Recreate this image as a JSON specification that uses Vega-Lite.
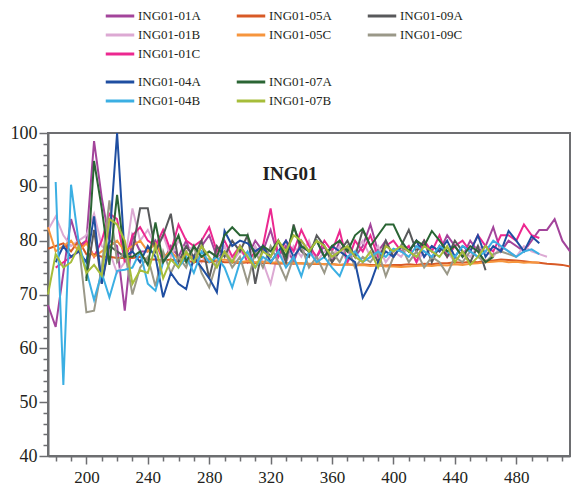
{
"$schema": "https://vega.github.io/schema/vega-lite/v6.json",
"width": 522, "height": 323,
"autosize": {"type": "none"},
"padding": {"left": 48, "top": 133, "right": 11, "bottom": 32},
"background": "white",
"config": {
  "view": {"stroke": "#6d6e71", "strokeWidth": 2},
  "font": "Liberation Serif",
  "style": {"guide-label": {"font": "Liberation Serif"}, "guide-title": {"font": "Liberation Serif"}},
  "axis": {"domainColor": "#6d6e71", "domainWidth": 2, "tickColor": "#6d6e71", "tickWidth": 1.5, "labelFont": "Liberation Serif", "labelFontSize": 17, "labelColor": "#231f20", "grid": false},
  "legend": {"labelFont": "Liberation Serif", "labelFontSize": 13, "labelColor": "#231f20", "symbolType": "M-1.5,0H1.5", "symbolStrokeWidth": 3, "symbolSize": 361, "labelOffset": 7, "columnPadding": 29, "rowPadding": 1, "gridAlign": "all", "padding": 0}
},
"title": {"text": "ING01", "font": "Liberation Serif", "fontSize": 19, "fontWeight": "bold", "color": "#231f20", "anchor": "middle", "dx": -19, "dy": 179, "offset": 0},
"data": {"values": [
{"s":"ING01-01A","x":175,"y":68},{"s":"ING01-01A","x":180,"y":64},{"s":"ING01-01A","x":185,"y":74},{"s":"ING01-01A","x":190,"y":84},{"s":"ING01-01A","x":195,"y":79},{"s":"ING01-01A","x":200,"y":80},{"s":"ING01-01A","x":205,"y":98.5},{"s":"ING01-01A","x":210,"y":88},{"s":"ING01-01A","x":215,"y":80},{"s":"ING01-01A","x":220,"y":79},{"s":"ING01-01A","x":225,"y":67},{"s":"ING01-01A","x":230,"y":81},{"s":"ING01-01A","x":235,"y":78},{"s":"ING01-01A","x":240,"y":78},{"s":"ING01-01A","x":245,"y":80},{"s":"ING01-01A","x":250,"y":76},{"s":"ING01-01A","x":255,"y":79},{"s":"ING01-01A","x":260,"y":77},{"s":"ING01-01A","x":265,"y":80},{"s":"ING01-01A","x":270,"y":76},{"s":"ING01-01A","x":275,"y":79},{"s":"ING01-01A","x":280,"y":81},{"s":"ING01-01A","x":285,"y":77},{"s":"ING01-01A","x":290,"y":78},{"s":"ING01-01A","x":295,"y":76},{"s":"ING01-01A","x":300,"y":79},{"s":"ING01-01A","x":305,"y":77},{"s":"ING01-01A","x":310,"y":80},{"s":"ING01-01A","x":315,"y":78},{"s":"ING01-01A","x":320,"y":82},{"s":"ING01-01A","x":325,"y":77},{"s":"ING01-01A","x":330,"y":79},{"s":"ING01-01A","x":335,"y":76},{"s":"ING01-01A","x":340,"y":80},{"s":"ING01-01A","x":345,"y":78},{"s":"ING01-01A","x":350,"y":77},{"s":"ING01-01A","x":355,"y":79},{"s":"ING01-01A","x":360,"y":76},{"s":"ING01-01A","x":365,"y":80},{"s":"ING01-01A","x":370,"y":78},{"s":"ING01-01A","x":375,"y":77},{"s":"ING01-01A","x":380,"y":79},{"s":"ING01-01A","x":385,"y":83},{"s":"ING01-01A","x":390,"y":78},{"s":"ING01-01A","x":395,"y":80},{"s":"ING01-01A","x":400,"y":77},{"s":"ING01-01A","x":405,"y":79},{"s":"ING01-01A","x":410,"y":78},{"s":"ING01-01A","x":415,"y":80},{"s":"ING01-01A","x":420,"y":77},{"s":"ING01-01A","x":425,"y":79},{"s":"ING01-01A","x":430,"y":78},{"s":"ING01-01A","x":435,"y":81},{"s":"ING01-01A","x":440,"y":79},{"s":"ING01-01A","x":445,"y":77},{"s":"ING01-01A","x":450,"y":80},{"s":"ING01-01A","x":455,"y":78},{"s":"ING01-01A","x":460,"y":79},{"s":"ING01-01A","x":465,"y":82.5},{"s":"ING01-01A","x":470,"y":78},{"s":"ING01-01A","x":475,"y":80},{"s":"ING01-01A","x":480,"y":79},{"s":"ING01-01A","x":485,"y":78},{"s":"ING01-01A","x":490,"y":80},{"s":"ING01-01A","x":495,"y":82},{"s":"ING01-01A","x":500,"y":82},{"s":"ING01-01A","x":505,"y":84},{"s":"ING01-01A","x":510,"y":80},{"s":"ING01-01A","x":515,"y":78},
{"s":"ING01-01B","x":175,"y":82},{"s":"ING01-01B","x":180,"y":84.5},{"s":"ING01-01B","x":185,"y":81},{"s":"ING01-01B","x":190,"y":79},{"s":"ING01-01B","x":195,"y":80},{"s":"ING01-01B","x":200,"y":81},{"s":"ING01-01B","x":205,"y":85},{"s":"ING01-01B","x":210,"y":79},{"s":"ING01-01B","x":215,"y":78},{"s":"ING01-01B","x":220,"y":74},{"s":"ING01-01B","x":225,"y":76},{"s":"ING01-01B","x":230,"y":86},{"s":"ING01-01B","x":235,"y":80},{"s":"ING01-01B","x":240,"y":82},{"s":"ING01-01B","x":245,"y":79},{"s":"ING01-01B","x":250,"y":81},{"s":"ING01-01B","x":255,"y":77},{"s":"ING01-01B","x":260,"y":80},{"s":"ING01-01B","x":265,"y":78},{"s":"ING01-01B","x":270,"y":79},{"s":"ING01-01B","x":275,"y":76},{"s":"ING01-01B","x":280,"y":78},{"s":"ING01-01B","x":285,"y":77},{"s":"ING01-01B","x":290,"y":79},{"s":"ING01-01B","x":295,"y":76},{"s":"ING01-01B","x":300,"y":78},{"s":"ING01-01B","x":305,"y":77},{"s":"ING01-01B","x":310,"y":79},{"s":"ING01-01B","x":315,"y":76},{"s":"ING01-01B","x":320,"y":72},{"s":"ING01-01B","x":325,"y":78},{"s":"ING01-01B","x":330,"y":76},{"s":"ING01-01B","x":335,"y":79},{"s":"ING01-01B","x":340,"y":77},{"s":"ING01-01B","x":345,"y":80},{"s":"ING01-01B","x":350,"y":76},{"s":"ING01-01B","x":355,"y":78},{"s":"ING01-01B","x":360,"y":77},{"s":"ING01-01B","x":365,"y":79},{"s":"ING01-01B","x":370,"y":76},{"s":"ING01-01B","x":375,"y":78},{"s":"ING01-01B","x":380,"y":80},{"s":"ING01-01B","x":385,"y":77},{"s":"ING01-01B","x":390,"y":79},{"s":"ING01-01B","x":395,"y":76},{"s":"ING01-01B","x":400,"y":78},{"s":"ING01-01B","x":405,"y":77},{"s":"ING01-01B","x":410,"y":79},{"s":"ING01-01B","x":415,"y":76},{"s":"ING01-01B","x":420,"y":78},{"s":"ING01-01B","x":425,"y":77},{"s":"ING01-01B","x":430,"y":79},{"s":"ING01-01B","x":435,"y":78},{"s":"ING01-01B","x":440,"y":76},{"s":"ING01-01B","x":445,"y":78},{"s":"ING01-01B","x":450,"y":77},{"s":"ING01-01B","x":455,"y":79},{"s":"ING01-01B","x":460,"y":78},{"s":"ING01-01B","x":465,"y":77},{"s":"ING01-01B","x":470,"y":79},{"s":"ING01-01B","x":475,"y":78},{"s":"ING01-01B","x":480,"y":77},{"s":"ING01-01B","x":485,"y":79},{"s":"ING01-01B","x":490,"y":78},{"s":"ING01-01B","x":495,"y":77.5},{"s":"ING01-01B","x":500,"y":77},
{"s":"ING01-01C","x":180,"y":75},{"s":"ING01-01C","x":185,"y":76},{"s":"ING01-01C","x":190,"y":77},{"s":"ING01-01C","x":195,"y":78},{"s":"ING01-01C","x":200,"y":80},{"s":"ING01-01C","x":205,"y":77},{"s":"ING01-01C","x":210,"y":80},{"s":"ING01-01C","x":215,"y":85},{"s":"ING01-01C","x":220,"y":84},{"s":"ING01-01C","x":225,"y":76},{"s":"ING01-01C","x":230,"y":81},{"s":"ING01-01C","x":235,"y":82.5},{"s":"ING01-01C","x":240,"y":80},{"s":"ING01-01C","x":245,"y":79},{"s":"ING01-01C","x":250,"y":82},{"s":"ING01-01C","x":255,"y":78},{"s":"ING01-01C","x":260,"y":83},{"s":"ING01-01C","x":265,"y":80},{"s":"ING01-01C","x":270,"y":79},{"s":"ING01-01C","x":275,"y":80},{"s":"ING01-01C","x":280,"y":82.5},{"s":"ING01-01C","x":285,"y":78},{"s":"ING01-01C","x":290,"y":80},{"s":"ING01-01C","x":295,"y":77},{"s":"ING01-01C","x":300,"y":79},{"s":"ING01-01C","x":305,"y":76},{"s":"ING01-01C","x":310,"y":78},{"s":"ING01-01C","x":315,"y":79},{"s":"ING01-01C","x":320,"y":86},{"s":"ING01-01C","x":325,"y":77},{"s":"ING01-01C","x":330,"y":80},{"s":"ING01-01C","x":335,"y":78},{"s":"ING01-01C","x":340,"y":82},{"s":"ING01-01C","x":345,"y":79},{"s":"ING01-01C","x":350,"y":77},{"s":"ING01-01C","x":355,"y":80},{"s":"ING01-01C","x":360,"y":78},{"s":"ING01-01C","x":365,"y":81.8},{"s":"ING01-01C","x":370,"y":76},{"s":"ING01-01C","x":375,"y":80},{"s":"ING01-01C","x":380,"y":78},{"s":"ING01-01C","x":385,"y":81},{"s":"ING01-01C","x":390,"y":77},{"s":"ING01-01C","x":395,"y":79},{"s":"ING01-01C","x":400,"y":80},{"s":"ING01-01C","x":405,"y":78},{"s":"ING01-01C","x":410,"y":79},{"s":"ING01-01C","x":415,"y":76},{"s":"ING01-01C","x":420,"y":80},{"s":"ING01-01C","x":425,"y":78},{"s":"ING01-01C","x":430,"y":81},{"s":"ING01-01C","x":435,"y":77},{"s":"ING01-01C","x":440,"y":79},{"s":"ING01-01C","x":445,"y":80},{"s":"ING01-01C","x":450,"y":78},{"s":"ING01-01C","x":455,"y":81},{"s":"ING01-01C","x":460,"y":79},{"s":"ING01-01C","x":465,"y":78},{"s":"ING01-01C","x":470,"y":81},{"s":"ING01-01C","x":475,"y":81},{"s":"ING01-01C","x":480,"y":80},{"s":"ING01-01C","x":485,"y":83},{"s":"ING01-01C","x":490,"y":81},{"s":"ING01-01C","x":495,"y":80.5},
{"s":"ING01-05A","x":175,"y":78.5},{"s":"ING01-05A","x":180,"y":79},{"s":"ING01-05A","x":185,"y":79.5},{"s":"ING01-05A","x":190,"y":78},{"s":"ING01-05A","x":195,"y":80},{"s":"ING01-05A","x":200,"y":77.5},{"s":"ING01-05A","x":205,"y":77.5},{"s":"ING01-05A","x":210,"y":77},{"s":"ING01-05A","x":215,"y":77},{"s":"ING01-05A","x":220,"y":76.8},{"s":"ING01-05A","x":225,"y":76.8},{"s":"ING01-05A","x":230,"y":76.8},{"s":"ING01-05A","x":235,"y":77},{"s":"ING01-05A","x":240,"y":76.5},{"s":"ING01-05A","x":245,"y":76.5},{"s":"ING01-05A","x":250,"y":76.3},{"s":"ING01-05A","x":255,"y":76.5},{"s":"ING01-05A","x":260,"y":76.2},{"s":"ING01-05A","x":265,"y":76.3},{"s":"ING01-05A","x":270,"y":76},{"s":"ING01-05A","x":275,"y":76.2},{"s":"ING01-05A","x":280,"y":76},{"s":"ING01-05A","x":285,"y":76.2},{"s":"ING01-05A","x":290,"y":76},{"s":"ING01-05A","x":295,"y":76},{"s":"ING01-05A","x":300,"y":75.8},{"s":"ING01-05A","x":305,"y":76},{"s":"ING01-05A","x":310,"y":75.8},{"s":"ING01-05A","x":315,"y":75.9},{"s":"ING01-05A","x":320,"y":75.8},{"s":"ING01-05A","x":325,"y":75.7},{"s":"ING01-05A","x":330,"y":75.8},{"s":"ING01-05A","x":335,"y":75.7},{"s":"ING01-05A","x":340,"y":75.8},{"s":"ING01-05A","x":345,"y":75.6},{"s":"ING01-05A","x":350,"y":75.7},{"s":"ING01-05A","x":355,"y":75.6},{"s":"ING01-05A","x":360,"y":75.6},{"s":"ING01-05A","x":365,"y":75.5},{"s":"ING01-05A","x":370,"y":75.6},{"s":"ING01-05A","x":375,"y":75.5},{"s":"ING01-05A","x":380,"y":75.6},{"s":"ING01-05A","x":385,"y":75.5},{"s":"ING01-05A","x":390,"y":75.5},{"s":"ING01-05A","x":395,"y":75.4},{"s":"ING01-05A","x":400,"y":75.5},{"s":"ING01-05A","x":405,"y":75.5},{"s":"ING01-05A","x":410,"y":75.6},{"s":"ING01-05A","x":415,"y":75.5},{"s":"ING01-05A","x":420,"y":75.7},{"s":"ING01-05A","x":425,"y":75.6},{"s":"ING01-05A","x":430,"y":75.8},{"s":"ING01-05A","x":435,"y":75.8},{"s":"ING01-05A","x":440,"y":76},{"s":"ING01-05A","x":445,"y":75.9},{"s":"ING01-05A","x":450,"y":76.1},{"s":"ING01-05A","x":455,"y":76},{"s":"ING01-05A","x":460,"y":76.3},{"s":"ING01-05A","x":465,"y":76.3},{"s":"ING01-05A","x":470,"y":76.5},{"s":"ING01-05A","x":475,"y":76.4},{"s":"ING01-05A","x":480,"y":76.3},{"s":"ING01-05A","x":485,"y":76.2},{"s":"ING01-05A","x":490,"y":76},{"s":"ING01-05A","x":495,"y":75.9},{"s":"ING01-05A","x":500,"y":75.7},{"s":"ING01-05A","x":505,"y":75.6},{"s":"ING01-05A","x":510,"y":75.5},{"s":"ING01-05A","x":515,"y":75.2},
{"s":"ING01-05C","x":175,"y":82.5},{"s":"ING01-05C","x":180,"y":78},{"s":"ING01-05C","x":185,"y":79},{"s":"ING01-05C","x":190,"y":80},{"s":"ING01-05C","x":195,"y":78},{"s":"ING01-05C","x":200,"y":79.5},{"s":"ING01-05C","x":205,"y":77},{"s":"ING01-05C","x":210,"y":78},{"s":"ING01-05C","x":215,"y":79},{"s":"ING01-05C","x":220,"y":80},{"s":"ING01-05C","x":225,"y":78},{"s":"ING01-05C","x":230,"y":79},{"s":"ING01-05C","x":235,"y":80},{"s":"ING01-05C","x":240,"y":78},{"s":"ING01-05C","x":245,"y":79.5},{"s":"ING01-05C","x":250,"y":77},{"s":"ING01-05C","x":255,"y":78},{"s":"ING01-05C","x":260,"y":76.5},{"s":"ING01-05C","x":265,"y":77.5},{"s":"ING01-05C","x":270,"y":76.8},{"s":"ING01-05C","x":275,"y":77},{"s":"ING01-05C","x":280,"y":76.5},{"s":"ING01-05C","x":285,"y":76.3},{"s":"ING01-05C","x":290,"y":76.5},{"s":"ING01-05C","x":295,"y":76.2},{"s":"ING01-05C","x":300,"y":76},{"s":"ING01-05C","x":305,"y":76.2},{"s":"ING01-05C","x":310,"y":76},{"s":"ING01-05C","x":315,"y":76.1},{"s":"ING01-05C","x":320,"y":75.9},{"s":"ING01-05C","x":325,"y":76},{"s":"ING01-05C","x":330,"y":75.8},{"s":"ING01-05C","x":335,"y":75.9},{"s":"ING01-05C","x":340,"y":75.8},{"s":"ING01-05C","x":345,"y":75.7},{"s":"ING01-05C","x":350,"y":75.8},{"s":"ING01-05C","x":355,"y":75.6},{"s":"ING01-05C","x":360,"y":75.7},{"s":"ING01-05C","x":365,"y":75.5},{"s":"ING01-05C","x":370,"y":75.6},{"s":"ING01-05C","x":375,"y":75.4},{"s":"ING01-05C","x":380,"y":75.5},{"s":"ING01-05C","x":385,"y":75.3},{"s":"ING01-05C","x":390,"y":75.4},{"s":"ING01-05C","x":395,"y":75.2},{"s":"ING01-05C","x":400,"y":75.2},{"s":"ING01-05C","x":405,"y":75.1},{"s":"ING01-05C","x":410,"y":75.2},{"s":"ING01-05C","x":415,"y":75.3},{"s":"ING01-05C","x":420,"y":75.4},{"s":"ING01-05C","x":425,"y":75.3},{"s":"ING01-05C","x":430,"y":75.5},{"s":"ING01-05C","x":435,"y":75.4},{"s":"ING01-05C","x":440,"y":75.6},{"s":"ING01-05C","x":445,"y":75.5},{"s":"ING01-05C","x":450,"y":75.7},{"s":"ING01-05C","x":455,"y":75.8},{"s":"ING01-05C","x":460,"y":76},{"s":"ING01-05C","x":465,"y":76.1},{"s":"ING01-05C","x":470,"y":76.2},{"s":"ING01-05C","x":475,"y":76},{"s":"ING01-05C","x":480,"y":76.1},{"s":"ING01-05C","x":485,"y":75.9},{"s":"ING01-05C","x":490,"y":76},{"s":"ING01-05C","x":495,"y":75.9},
{"s":"ING01-09A","x":200,"y":73},{"s":"ING01-09A","x":205,"y":82},{"s":"ING01-09A","x":210,"y":72},{"s":"ING01-09A","x":215,"y":79},{"s":"ING01-09A","x":220,"y":78},{"s":"ING01-09A","x":225,"y":77},{"s":"ING01-09A","x":230,"y":78},{"s":"ING01-09A","x":235,"y":86},{"s":"ING01-09A","x":240,"y":86},{"s":"ING01-09A","x":245,"y":78},{"s":"ING01-09A","x":250,"y":81},{"s":"ING01-09A","x":255,"y":85},{"s":"ING01-09A","x":260,"y":76},{"s":"ING01-09A","x":265,"y":79},{"s":"ING01-09A","x":270,"y":77},{"s":"ING01-09A","x":275,"y":80},{"s":"ING01-09A","x":280,"y":73},{"s":"ING01-09A","x":285,"y":79},{"s":"ING01-09A","x":290,"y":77},{"s":"ING01-09A","x":295,"y":80},{"s":"ING01-09A","x":300,"y":78},{"s":"ING01-09A","x":305,"y":81},{"s":"ING01-09A","x":310,"y":72},{"s":"ING01-09A","x":315,"y":79},{"s":"ING01-09A","x":320,"y":77},{"s":"ING01-09A","x":325,"y":80},{"s":"ING01-09A","x":330,"y":76},{"s":"ING01-09A","x":335,"y":83},{"s":"ING01-09A","x":340,"y":78},{"s":"ING01-09A","x":345,"y":77},{"s":"ING01-09A","x":350,"y":81},{"s":"ING01-09A","x":355,"y":79},{"s":"ING01-09A","x":360,"y":76},{"s":"ING01-09A","x":365,"y":78},{"s":"ING01-09A","x":370,"y":80},{"s":"ING01-09A","x":375,"y":77},{"s":"ING01-09A","x":380,"y":82},{"s":"ING01-09A","x":385,"y":79},{"s":"ING01-09A","x":390,"y":76},{"s":"ING01-09A","x":395,"y":80},{"s":"ING01-09A","x":400,"y":77},{"s":"ING01-09A","x":405,"y":79},{"s":"ING01-09A","x":410,"y":82},{"s":"ING01-09A","x":415,"y":78},{"s":"ING01-09A","x":420,"y":80},{"s":"ING01-09A","x":425,"y":76},{"s":"ING01-09A","x":430,"y":79},{"s":"ING01-09A","x":435,"y":77},{"s":"ING01-09A","x":440,"y":80},{"s":"ING01-09A","x":445,"y":78},{"s":"ING01-09A","x":450,"y":76},{"s":"ING01-09A","x":455,"y":79},{"s":"ING01-09A","x":460,"y":74.5},
{"s":"ING01-09C","x":195,"y":79.5},{"s":"ING01-09C","x":200,"y":66.7},{"s":"ING01-09C","x":205,"y":67},{"s":"ING01-09C","x":210,"y":75},{"s":"ING01-09C","x":215,"y":87.5},{"s":"ING01-09C","x":220,"y":76},{"s":"ING01-09C","x":225,"y":78},{"s":"ING01-09C","x":230,"y":70},{"s":"ING01-09C","x":235,"y":75},{"s":"ING01-09C","x":240,"y":77},{"s":"ING01-09C","x":245,"y":71.5},{"s":"ING01-09C","x":250,"y":78},{"s":"ING01-09C","x":255,"y":74},{"s":"ING01-09C","x":260,"y":77},{"s":"ING01-09C","x":265,"y":75},{"s":"ING01-09C","x":270,"y":79},{"s":"ING01-09C","x":275,"y":74},{"s":"ING01-09C","x":280,"y":71.3},{"s":"ING01-09C","x":285,"y":76},{"s":"ING01-09C","x":290,"y":78},{"s":"ING01-09C","x":295,"y":75},{"s":"ING01-09C","x":300,"y":77},{"s":"ING01-09C","x":305,"y":72.2},{"s":"ING01-09C","x":310,"y":78},{"s":"ING01-09C","x":315,"y":75},{"s":"ING01-09C","x":320,"y":79},{"s":"ING01-09C","x":325,"y":76},{"s":"ING01-09C","x":330,"y":72.8},{"s":"ING01-09C","x":335,"y":77},{"s":"ING01-09C","x":340,"y":79},{"s":"ING01-09C","x":345,"y":75},{"s":"ING01-09C","x":350,"y":77},{"s":"ING01-09C","x":355,"y":74},{"s":"ING01-09C","x":360,"y":78},{"s":"ING01-09C","x":365,"y":76},{"s":"ING01-09C","x":370,"y":79},{"s":"ING01-09C","x":375,"y":75},{"s":"ING01-09C","x":380,"y":77},{"s":"ING01-09C","x":385,"y":76},{"s":"ING01-09C","x":390,"y":78},{"s":"ING01-09C","x":395,"y":73.4},{"s":"ING01-09C","x":400,"y":77},{"s":"ING01-09C","x":405,"y":79},{"s":"ING01-09C","x":410,"y":76},{"s":"ING01-09C","x":415,"y":78},{"s":"ING01-09C","x":420,"y":75},{"s":"ING01-09C","x":425,"y":77},{"s":"ING01-09C","x":430,"y":76},{"s":"ING01-09C","x":435,"y":73.8},{"s":"ING01-09C","x":440,"y":77},{"s":"ING01-09C","x":445,"y":76},{"s":"ING01-09C","x":450,"y":78},{"s":"ING01-09C","x":455,"y":77},{"s":"ING01-09C","x":460,"y":76},{"s":"ING01-09C","x":465,"y":77.5},{"s":"ING01-09C","x":470,"y":78},{"s":"ING01-09C","x":475,"y":77.5},{"s":"ING01-09C","x":480,"y":77},
{"s":"ING01-04A","x":180,"y":76},{"s":"ING01-04A","x":185,"y":79},{"s":"ING01-04A","x":190,"y":77},{"s":"ING01-04A","x":195,"y":78},{"s":"ING01-04A","x":200,"y":76},{"s":"ING01-04A","x":205,"y":84.5},{"s":"ING01-04A","x":210,"y":72},{"s":"ING01-04A","x":215,"y":80},{"s":"ING01-04A","x":220,"y":100},{"s":"ING01-04A","x":225,"y":77},{"s":"ING01-04A","x":230,"y":78},{"s":"ING01-04A","x":235,"y":76},{"s":"ING01-04A","x":240,"y":79},{"s":"ING01-04A","x":245,"y":77},{"s":"ING01-04A","x":250,"y":69.5},{"s":"ING01-04A","x":255,"y":74},{"s":"ING01-04A","x":260,"y":72},{"s":"ING01-04A","x":265,"y":71},{"s":"ING01-04A","x":270,"y":77},{"s":"ING01-04A","x":275,"y":75},{"s":"ING01-04A","x":280,"y":73},{"s":"ING01-04A","x":285,"y":70.4},{"s":"ING01-04A","x":290,"y":81.8},{"s":"ING01-04A","x":295,"y":79},{"s":"ING01-04A","x":300,"y":80},{"s":"ING01-04A","x":305,"y":79.5},{"s":"ING01-04A","x":310,"y":78},{"s":"ING01-04A","x":315,"y":79},{"s":"ING01-04A","x":320,"y":76},{"s":"ING01-04A","x":325,"y":78},{"s":"ING01-04A","x":330,"y":80},{"s":"ING01-04A","x":335,"y":77},{"s":"ING01-04A","x":340,"y":79},{"s":"ING01-04A","x":345,"y":78},{"s":"ING01-04A","x":350,"y":80},{"s":"ING01-04A","x":355,"y":77},{"s":"ING01-04A","x":360,"y":79},{"s":"ING01-04A","x":365,"y":78},{"s":"ING01-04A","x":370,"y":77},{"s":"ING01-04A","x":375,"y":76},{"s":"ING01-04A","x":380,"y":69.4},{"s":"ING01-04A","x":385,"y":72},{"s":"ING01-04A","x":390,"y":76},{"s":"ING01-04A","x":395,"y":78},{"s":"ING01-04A","x":400,"y":77},{"s":"ING01-04A","x":405,"y":79},{"s":"ING01-04A","x":410,"y":78},{"s":"ING01-04A","x":415,"y":80},{"s":"ING01-04A","x":420,"y":77},{"s":"ING01-04A","x":425,"y":79},{"s":"ING01-04A","x":430,"y":78},{"s":"ING01-04A","x":435,"y":80},{"s":"ING01-04A","x":440,"y":77},{"s":"ING01-04A","x":445,"y":79},{"s":"ING01-04A","x":450,"y":78},{"s":"ING01-04A","x":455,"y":81},{"s":"ING01-04A","x":460,"y":77},{"s":"ING01-04A","x":465,"y":79},{"s":"ING01-04A","x":470,"y":78},{"s":"ING01-04A","x":475,"y":81.8},{"s":"ING01-04A","x":480,"y":80},{"s":"ING01-04A","x":485,"y":78},{"s":"ING01-04A","x":490,"y":80.8},{"s":"ING01-04A","x":495,"y":79.5},
{"s":"ING01-04B","x":180,"y":90.9},{"s":"ING01-04B","x":185,"y":53.2},{"s":"ING01-04B","x":190,"y":90.4},{"s":"ING01-04B","x":195,"y":79.7},{"s":"ING01-04B","x":200,"y":74.4},{"s":"ING01-04B","x":205,"y":69},{"s":"ING01-04B","x":210,"y":74},{"s":"ING01-04B","x":215,"y":69.5},{"s":"ING01-04B","x":220,"y":74.4},{"s":"ING01-04B","x":225,"y":74.6},{"s":"ING01-04B","x":230,"y":75},{"s":"ING01-04B","x":235,"y":78},{"s":"ING01-04B","x":240,"y":72},{"s":"ING01-04B","x":245,"y":70.7},{"s":"ING01-04B","x":250,"y":76},{"s":"ING01-04B","x":255,"y":78},{"s":"ING01-04B","x":260,"y":75},{"s":"ING01-04B","x":265,"y":77},{"s":"ING01-04B","x":270,"y":74},{"s":"ING01-04B","x":275,"y":78},{"s":"ING01-04B","x":280,"y":76},{"s":"ING01-04B","x":285,"y":77},{"s":"ING01-04B","x":290,"y":75},{"s":"ING01-04B","x":295,"y":71.3},{"s":"ING01-04B","x":300,"y":76},{"s":"ING01-04B","x":305,"y":78},{"s":"ING01-04B","x":310,"y":75},{"s":"ING01-04B","x":315,"y":77},{"s":"ING01-04B","x":320,"y":76},{"s":"ING01-04B","x":325,"y":78},{"s":"ING01-04B","x":330,"y":75},{"s":"ING01-04B","x":335,"y":77},{"s":"ING01-04B","x":340,"y":73.4},{"s":"ING01-04B","x":345,"y":78},{"s":"ING01-04B","x":350,"y":76},{"s":"ING01-04B","x":355,"y":77},{"s":"ING01-04B","x":360,"y":75},{"s":"ING01-04B","x":365,"y":73.4},{"s":"ING01-04B","x":370,"y":77},{"s":"ING01-04B","x":375,"y":78},{"s":"ING01-04B","x":380,"y":76},{"s":"ING01-04B","x":385,"y":77},{"s":"ING01-04B","x":390,"y":78},{"s":"ING01-04B","x":395,"y":77},{"s":"ING01-04B","x":400,"y":78.5},{"s":"ING01-04B","x":405,"y":78},{"s":"ING01-04B","x":410,"y":77},{"s":"ING01-04B","x":415,"y":79},{"s":"ING01-04B","x":420,"y":78},{"s":"ING01-04B","x":425,"y":77},{"s":"ING01-04B","x":430,"y":79},{"s":"ING01-04B","x":435,"y":78},{"s":"ING01-04B","x":440,"y":77},{"s":"ING01-04B","x":445,"y":79},{"s":"ING01-04B","x":450,"y":78},{"s":"ING01-04B","x":455,"y":77},{"s":"ING01-04B","x":460,"y":78},{"s":"ING01-04B","x":465,"y":80},{"s":"ING01-04B","x":470,"y":79},{"s":"ING01-04B","x":475,"y":78},{"s":"ING01-04B","x":480,"y":77},{"s":"ING01-04B","x":485,"y":78},{"s":"ING01-04B","x":490,"y":78.4},{"s":"ING01-04B","x":495,"y":77.5},
{"s":"ING01-07A","x":200,"y":72.5},{"s":"ING01-07A","x":205,"y":94.8},{"s":"ING01-07A","x":210,"y":86},{"s":"ING01-07A","x":215,"y":75.5},{"s":"ING01-07A","x":220,"y":88.5},{"s":"ING01-07A","x":225,"y":77},{"s":"ING01-07A","x":230,"y":77},{"s":"ING01-07A","x":235,"y":78},{"s":"ING01-07A","x":240,"y":75.5},{"s":"ING01-07A","x":245,"y":83.4},{"s":"ING01-07A","x":250,"y":76},{"s":"ING01-07A","x":255,"y":78},{"s":"ING01-07A","x":260,"y":81},{"s":"ING01-07A","x":265,"y":76},{"s":"ING01-07A","x":270,"y":79},{"s":"ING01-07A","x":275,"y":77},{"s":"ING01-07A","x":280,"y":78},{"s":"ING01-07A","x":285,"y":77},{"s":"ING01-07A","x":290,"y":81},{"s":"ING01-07A","x":295,"y":82.5},{"s":"ING01-07A","x":300,"y":81},{"s":"ING01-07A","x":305,"y":81},{"s":"ING01-07A","x":310,"y":77},{"s":"ING01-07A","x":315,"y":79},{"s":"ING01-07A","x":320,"y":78},{"s":"ING01-07A","x":325,"y":80},{"s":"ING01-07A","x":330,"y":77},{"s":"ING01-07A","x":335,"y":82.5},{"s":"ING01-07A","x":340,"y":79},{"s":"ING01-07A","x":345,"y":78},{"s":"ING01-07A","x":350,"y":80},{"s":"ING01-07A","x":355,"y":77},{"s":"ING01-07A","x":360,"y":79},{"s":"ING01-07A","x":365,"y":80},{"s":"ING01-07A","x":370,"y":78},{"s":"ING01-07A","x":375,"y":81},{"s":"ING01-07A","x":380,"y":82.2},{"s":"ING01-07A","x":385,"y":79},{"s":"ING01-07A","x":390,"y":81},{"s":"ING01-07A","x":395,"y":83},{"s":"ING01-07A","x":400,"y":83},{"s":"ING01-07A","x":405,"y":80},{"s":"ING01-07A","x":410,"y":78},{"s":"ING01-07A","x":415,"y":80},{"s":"ING01-07A","x":420,"y":79},{"s":"ING01-07A","x":425,"y":81.8},{"s":"ING01-07A","x":430,"y":80},{"s":"ING01-07A","x":435,"y":78},{"s":"ING01-07A","x":440,"y":79},{"s":"ING01-07A","x":445,"y":77},{"s":"ING01-07A","x":450,"y":79},{"s":"ING01-07A","x":455,"y":78},{"s":"ING01-07A","x":460,"y":76},{"s":"ING01-07A","x":465,"y":77},
{"s":"ING01-07B","x":175,"y":70},{"s":"ING01-07B","x":180,"y":77.5},{"s":"ING01-07B","x":185,"y":75},{"s":"ING01-07B","x":190,"y":76},{"s":"ING01-07B","x":195,"y":79},{"s":"ING01-07B","x":200,"y":74},{"s":"ING01-07B","x":205,"y":75.5},{"s":"ING01-07B","x":210,"y":73.5},{"s":"ING01-07B","x":215,"y":84},{"s":"ING01-07B","x":220,"y":83},{"s":"ING01-07B","x":225,"y":80},{"s":"ING01-07B","x":230,"y":72},{"s":"ING01-07B","x":235,"y":74.5},{"s":"ING01-07B","x":240,"y":74},{"s":"ING01-07B","x":245,"y":79},{"s":"ING01-07B","x":250,"y":73},{"s":"ING01-07B","x":255,"y":76.5},{"s":"ING01-07B","x":260,"y":75},{"s":"ING01-07B","x":265,"y":78},{"s":"ING01-07B","x":270,"y":76},{"s":"ING01-07B","x":275,"y":79},{"s":"ING01-07B","x":280,"y":77},{"s":"ING01-07B","x":285,"y":75},{"s":"ING01-07B","x":290,"y":78},{"s":"ING01-07B","x":295,"y":76},{"s":"ING01-07B","x":300,"y":79},{"s":"ING01-07B","x":305,"y":77},{"s":"ING01-07B","x":310,"y":75},{"s":"ING01-07B","x":315,"y":78},{"s":"ING01-07B","x":320,"y":77},{"s":"ING01-07B","x":325,"y":80},{"s":"ING01-07B","x":330,"y":78},{"s":"ING01-07B","x":335,"y":81},{"s":"ING01-07B","x":340,"y":80},{"s":"ING01-07B","x":345,"y":78},{"s":"ING01-07B","x":350,"y":80},{"s":"ING01-07B","x":355,"y":79},{"s":"ING01-07B","x":360,"y":77},{"s":"ING01-07B","x":365,"y":78},{"s":"ING01-07B","x":370,"y":79},{"s":"ING01-07B","x":375,"y":77},{"s":"ING01-07B","x":380,"y":76},{"s":"ING01-07B","x":385,"y":78},{"s":"ING01-07B","x":390,"y":75},{"s":"ING01-07B","x":395,"y":79},{"s":"ING01-07B","x":400,"y":78},{"s":"ING01-07B","x":405,"y":79},{"s":"ING01-07B","x":410,"y":78},{"s":"ING01-07B","x":415,"y":77},{"s":"ING01-07B","x":420,"y":79},{"s":"ING01-07B","x":425,"y":78},{"s":"ING01-07B","x":430,"y":77},{"s":"ING01-07B","x":435,"y":79},{"s":"ING01-07B","x":440,"y":76},{"s":"ING01-07B","x":445,"y":78},{"s":"ING01-07B","x":450,"y":75.5},{"s":"ING01-07B","x":455,"y":77},{"s":"ING01-07B","x":460,"y":79},{"s":"ING01-07B","x":465,"y":77}
]},
"layer": [
  {
    "transform": [{"filter": {"field": "s", "oneOf": ["ING01-01A","ING01-05A","ING01-09A","ING01-01B","ING01-05C","ING01-09C","ING01-01C"]}}],
    "mark": {"type": "line", "strokeWidth": 2},
    "encoding": {
      "x": {"field": "x", "type": "quantitative", "title": null, "scale": {"domain": [175, 515], "nice": false, "zero": false}, "axis": {"orient": "bottom", "values": [200,240,280,320,360,400,440,480], "tickSize": 8, "labelPadding": 5, "labelFont": "Liberation Serif", "labelFontSize": 17}},
      "y": {"field": "y", "type": "quantitative", "title": null, "scale": {"domain": [40, 100], "nice": false, "zero": false}, "axis": {"orient": "left", "values": [40,50,60,70,80,90,100], "tickSize": 9, "labelPadding": 2, "labelFont": "Liberation Serif", "labelFontSize": 18}},
      "color": {"field": "s", "type": "nominal", "title": null,
        "scale": {"domain": ["ING01-01A","ING01-05A","ING01-09A","ING01-01B","ING01-05C","ING01-09C","ING01-01C"], "range": ["#a3449b","#d85a26","#58595b","#dca9d3","#f6953d","#9a9888","#ec2890"]},
        "legend": {"orient": "none", "legendX": 61, "legendY": -128, "columns": 3, "direction": "horizontal", "labelFont": "Liberation Serif", "labelFontSize": 13}}
    }
  },
  {
    "transform": [{"filter": {"field": "s", "oneOf": ["ING01-04A","ING01-07A","ING01-04B","ING01-07B"]}}],
    "mark": {"type": "line", "strokeWidth": 2},
    "encoding": {
      "x": {"field": "x", "type": "quantitative", "axis": null},
      "y": {"field": "y", "type": "quantitative", "axis": null},
      "color": {"field": "s", "type": "nominal", "title": null,
        "scale": {"domain": ["ING01-04A","ING01-07A","ING01-04B","ING01-07B"], "range": ["#1f4ea1","#2a6534","#3bafe3","#a6bd3a"]},
        "legend": {"orient": "none", "legendX": 61, "legendY": -62, "columns": 2, "direction": "horizontal", "labelFont": "Liberation Serif", "labelFontSize": 13}}
    }
  },
  {
    "mark": {"type": "point", "opacity": 0},
    "encoding": {
      "x": {"field": "x", "type": "quantitative", "title": null, "axis": {"orient": "bottom", "values": [180,190,210,220,230,250,260,270,290,300,310,330,340,350,370,380,390,410,420,430,450,460,470,490,500,510], "labels": false, "domain": false, "tickSize": 5}},
      "y": {"field": "y", "type": "quantitative", "title": null, "axis": {"orient": "left", "values": [42,44,46,48,52,54,56,58,62,64,66,68,72,74,76,78,82,84,86,88,92,94,96,98], "labels": false, "domain": false, "tickSize": 5}}
    }
  }
],
"resolve": {"scale": {"color": "independent"}, "legend": {"color": "independent"}, "axis": {"x": "independent", "y": "independent"}}
}
